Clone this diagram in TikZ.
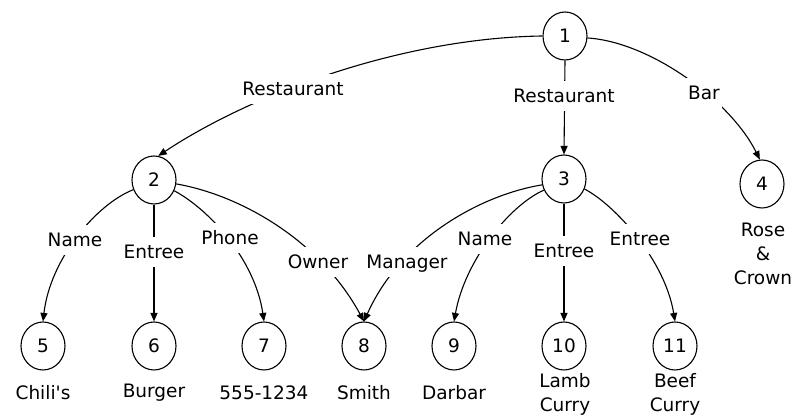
\documentclass[tikz,border=0pt]{standalone}
\usepackage{fontspec}
\setmainfont{DejaVu Sans}
\usetikzlibrary{shapes.geometric,arrows.meta}
\begin{document}
\begin{tikzpicture}[x=1pt,y=1pt,
  every node/.style={font=\fontsize{18.5pt}{24pt}\selectfont},
  vtx/.style={draw, ellipse, minimum width=44pt, minimum height=48pt, inner sep=0pt, line width=1.1pt},
  elab/.style={fill=white, inner xsep=2pt, inner ysep=8.5pt, text height=13pt, text depth=0pt},
  txt/.style={align=center, inner sep=0pt},
  edge/.style={line width=1.1pt, -{Triangle[length=8.5pt,width=7pt]}}]
\useasboundingbox (0,0) rectangle (795,417);
% vertices
\node[vtx] (n1) at (565,381) {1};
\node[vtx] (n2) at (154,237) {2};
\node[vtx] (n3) at (564,238) {3};
\node[vtx] (n4) at (762,233) {4};
\node[vtx] (n5) at (43,71) {5};
\node[vtx] (n6) at (154,71) {6};
\node[vtx] (n7) at (264,71) {7};
\node[vtx] (n8) at (364,71) {8};
\node[vtx] (n9) at (454,71) {9};
\node[vtx] (n10) at (564,71) {10};
\node[vtx] (n11) at (675,71) {11};
% vertex texts
\node[txt] (t4) at (763,163) {Rose\\\&\\Crown};
\node[txt] (t5) at (43,24) {Chili\textquotesingle s};
\node[txt] (t6) at (154,24) {Burger};
\node[txt] (t7) at (264,24) {555-1234};
\node[txt] (t8) at (364,24) {Smith};
\node[txt] (t9) at (454,24) {Darbar};
\node[txt] (t10) at (565,23) {Lamb\\Curry};
\node[txt] (t11) at (675,23) {Beef\\Curry};
% edges
\draw[edge] (n1.west) .. controls (400,379) and (250,322) .. (n2.80);
\draw[edge] (n1.south) -- (n3.north);
\draw[edge] (n1.-5) .. controls (650,375) and (730,317) .. (n4.95);
\draw[edge] (n2.205) .. controls (95,212) and (50,157) .. (n5.north);
\draw[edge] (n2.south) -- (n6.north);
\draw[edge] (n2.-28) .. controls (210,207) and (255,157) .. (n7.north);
\draw[edge] (n2.-10) .. controls (240,222) and (320,177) .. (n8.north);
\draw[edge] (n3.195) .. controls (480,222) and (400,177) .. (n8.north);
\draw[edge] (n3.209) .. controls (510,212) and (465,157) .. (n9.north);
\draw[edge] (n3.south) -- (n10.north);
\draw[edge] (n3.-26) .. controls (615,212) and (665,157) .. (n11.north);
% edge labels
\node[elab] (lrA) at (293,328) {Restaurant};
\node[elab] (lrB) at (564,321) {Restaurant};
\node[elab] (lbar) at (704,324) {Bar};
\node[elab] (lname2) at (75,177) {Name};
\node[elab] (lentree2) at (154,165) {Entree};
\node[elab] (lphone) at (230,179) {Phone};
\node[elab] (lowner) at (318,155) {Owner};
\node[elab] (lmanager) at (407,155) {Manager};
\node[elab] (lname3) at (485,178) {Name};
\node[elab] (lentree3) at (564,166) {Entree};
\node[elab] (lentree3b) at (640,178) {Entree};
\end{tikzpicture}
\end{document}
